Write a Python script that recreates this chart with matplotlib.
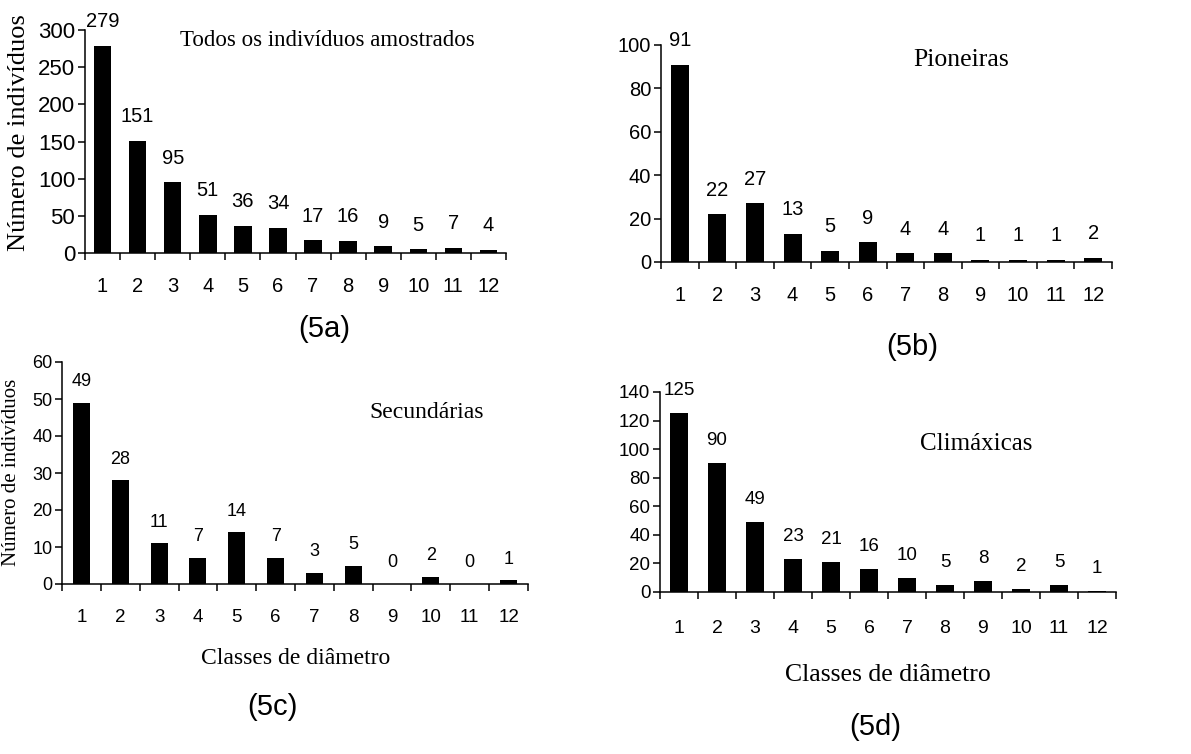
#!/usr/bin/env python3
# Diameter-class distributions of sampled trees: all individuals and
# the three successional groups, one bar panel each.
import matplotlib.pyplot as plt
from matplotlib.ticker import FixedLocator

classes = list(range(1, 13))
todos = [279, 151, 95, 51, 36, 34, 17, 16, 9, 5, 7, 4]
pioneiras = [91, 22, 27, 13, 5, 9, 4, 4, 1, 1, 1, 2]
secundarias = [49, 28, 11, 7, 14, 7, 3, 5, 0, 2, 0, 1]
climaxicas = [125, 90, 49, 23, 21, 16, 10, 5, 8, 2, 5, 1]

SANS = 'Liberation Sans'
SERIF = 'Liberation Serif'

W, H = 1191, 754


def px_box(left, right, top, bottom):
    return [left / W, 1 - bottom / H, (right - left) / W, (bottom - top) / H]


def draw_panel(fig, box, values, ymax, ystep, xsize, ysize, value_size,
               value_off, bar_w, xpad):
    ax = fig.add_axes(box)
    ax.bar(classes, values, width=bar_w, color='black')
    ax.set_xlim(0.5, 12.5)
    ax.set_ylim(0, ymax)
    ax.set_yticks(range(0, ymax + 1, ystep))
    ax.set_xticks(classes)
    ax.xaxis.set_minor_locator(FixedLocator([c + 0.5 for c in [0] + classes]))
    ax.tick_params(axis='x', which='major', length=0, pad=xpad,
                   labelsize=xsize)
    ax.tick_params(axis='x', which='minor', length=5, width=1.1,
                   direction='out')
    ax.tick_params(axis='y', length=5, width=1.1, direction='out',
                   labelsize=ysize, pad=2)
    for lab in ax.get_xticklabels() + ax.get_yticklabels():
        lab.set_fontfamily(SANS)
    for side in ('top', 'right'):
        ax.spines[side].set_visible(False)
    for side in ('left', 'bottom'):
        ax.spines[side].set_linewidth(1.1)
    for c, v in zip(classes, values):
        ax.annotate(str(v), (c, v), xytext=(0, value_off),
                    textcoords='offset points', ha='center', va='baseline',
                    fontsize=value_size, family=SANS, annotation_clip=False)
    return ax


def fig_text(fig, x, y, s, **kw):
    fig.text(x / W, 1 - y / H, s, ha='center', va='center', **kw)


fig = plt.figure(figsize=(W / 100, H / 100), dpi=100)

draw_panel(fig, px_box(85, 506, 30, 253), todos, 300, 50, 14.5, 16, 14.5,
           13.5, 0.5, 17)
draw_panel(fig, px_box(661, 1112, 45, 262), pioneiras, 100, 20, 14.5, 14.5,
           14.5, 13.5, 0.48, 17)
draw_panel(fig, px_box(62, 528, 362, 584), secundarias, 60, 10, 13.5, 13,
           13, 12, 0.44, 18)
draw_panel(fig, px_box(660, 1116, 392, 592), climaxicas, 140, 20, 14, 13.5,
           13.5, 13, 0.46, 20)

# panel titles
fig_text(fig, 327, 40, 'Todos os indivíduos amostrados', family=SERIF,
         fontsize=16.5)
fig_text(fig, 961, 60, 'Pioneiras', family=SERIF, fontsize=18.5)
fig_text(fig, 427, 413, 'Secundárias', family=SERIF, fontsize=17)
fig_text(fig, 976, 444, 'Climáxicas', family=SERIF, fontsize=18)

# axis labels
fig_text(fig, 19, 133, 'Número de indivíduos', family=SERIF, fontsize=19,
         rotation=90)
fig_text(fig, 12, 472, 'Número de indivíduos', family=SERIF, fontsize=15,
         rotation=90)
fig_text(fig, 296, 658, 'Classes de diâmetro', family=SERIF, fontsize=17)
fig_text(fig, 888, 675, 'Classes de diâmetro', family=SERIF, fontsize=18.5)

# figure panel tags
fig_text(fig, 324, 329, '(5a)', family=SANS, fontsize=21)
fig_text(fig, 912, 347, '(5b)', family=SANS, fontsize=21)
fig_text(fig, 272, 707, '(5c)', family=SANS, fontsize=21)
fig_text(fig, 875, 727, '(5d)', family=SANS, fontsize=21)

fig.savefig('out.png', dpi=100)
